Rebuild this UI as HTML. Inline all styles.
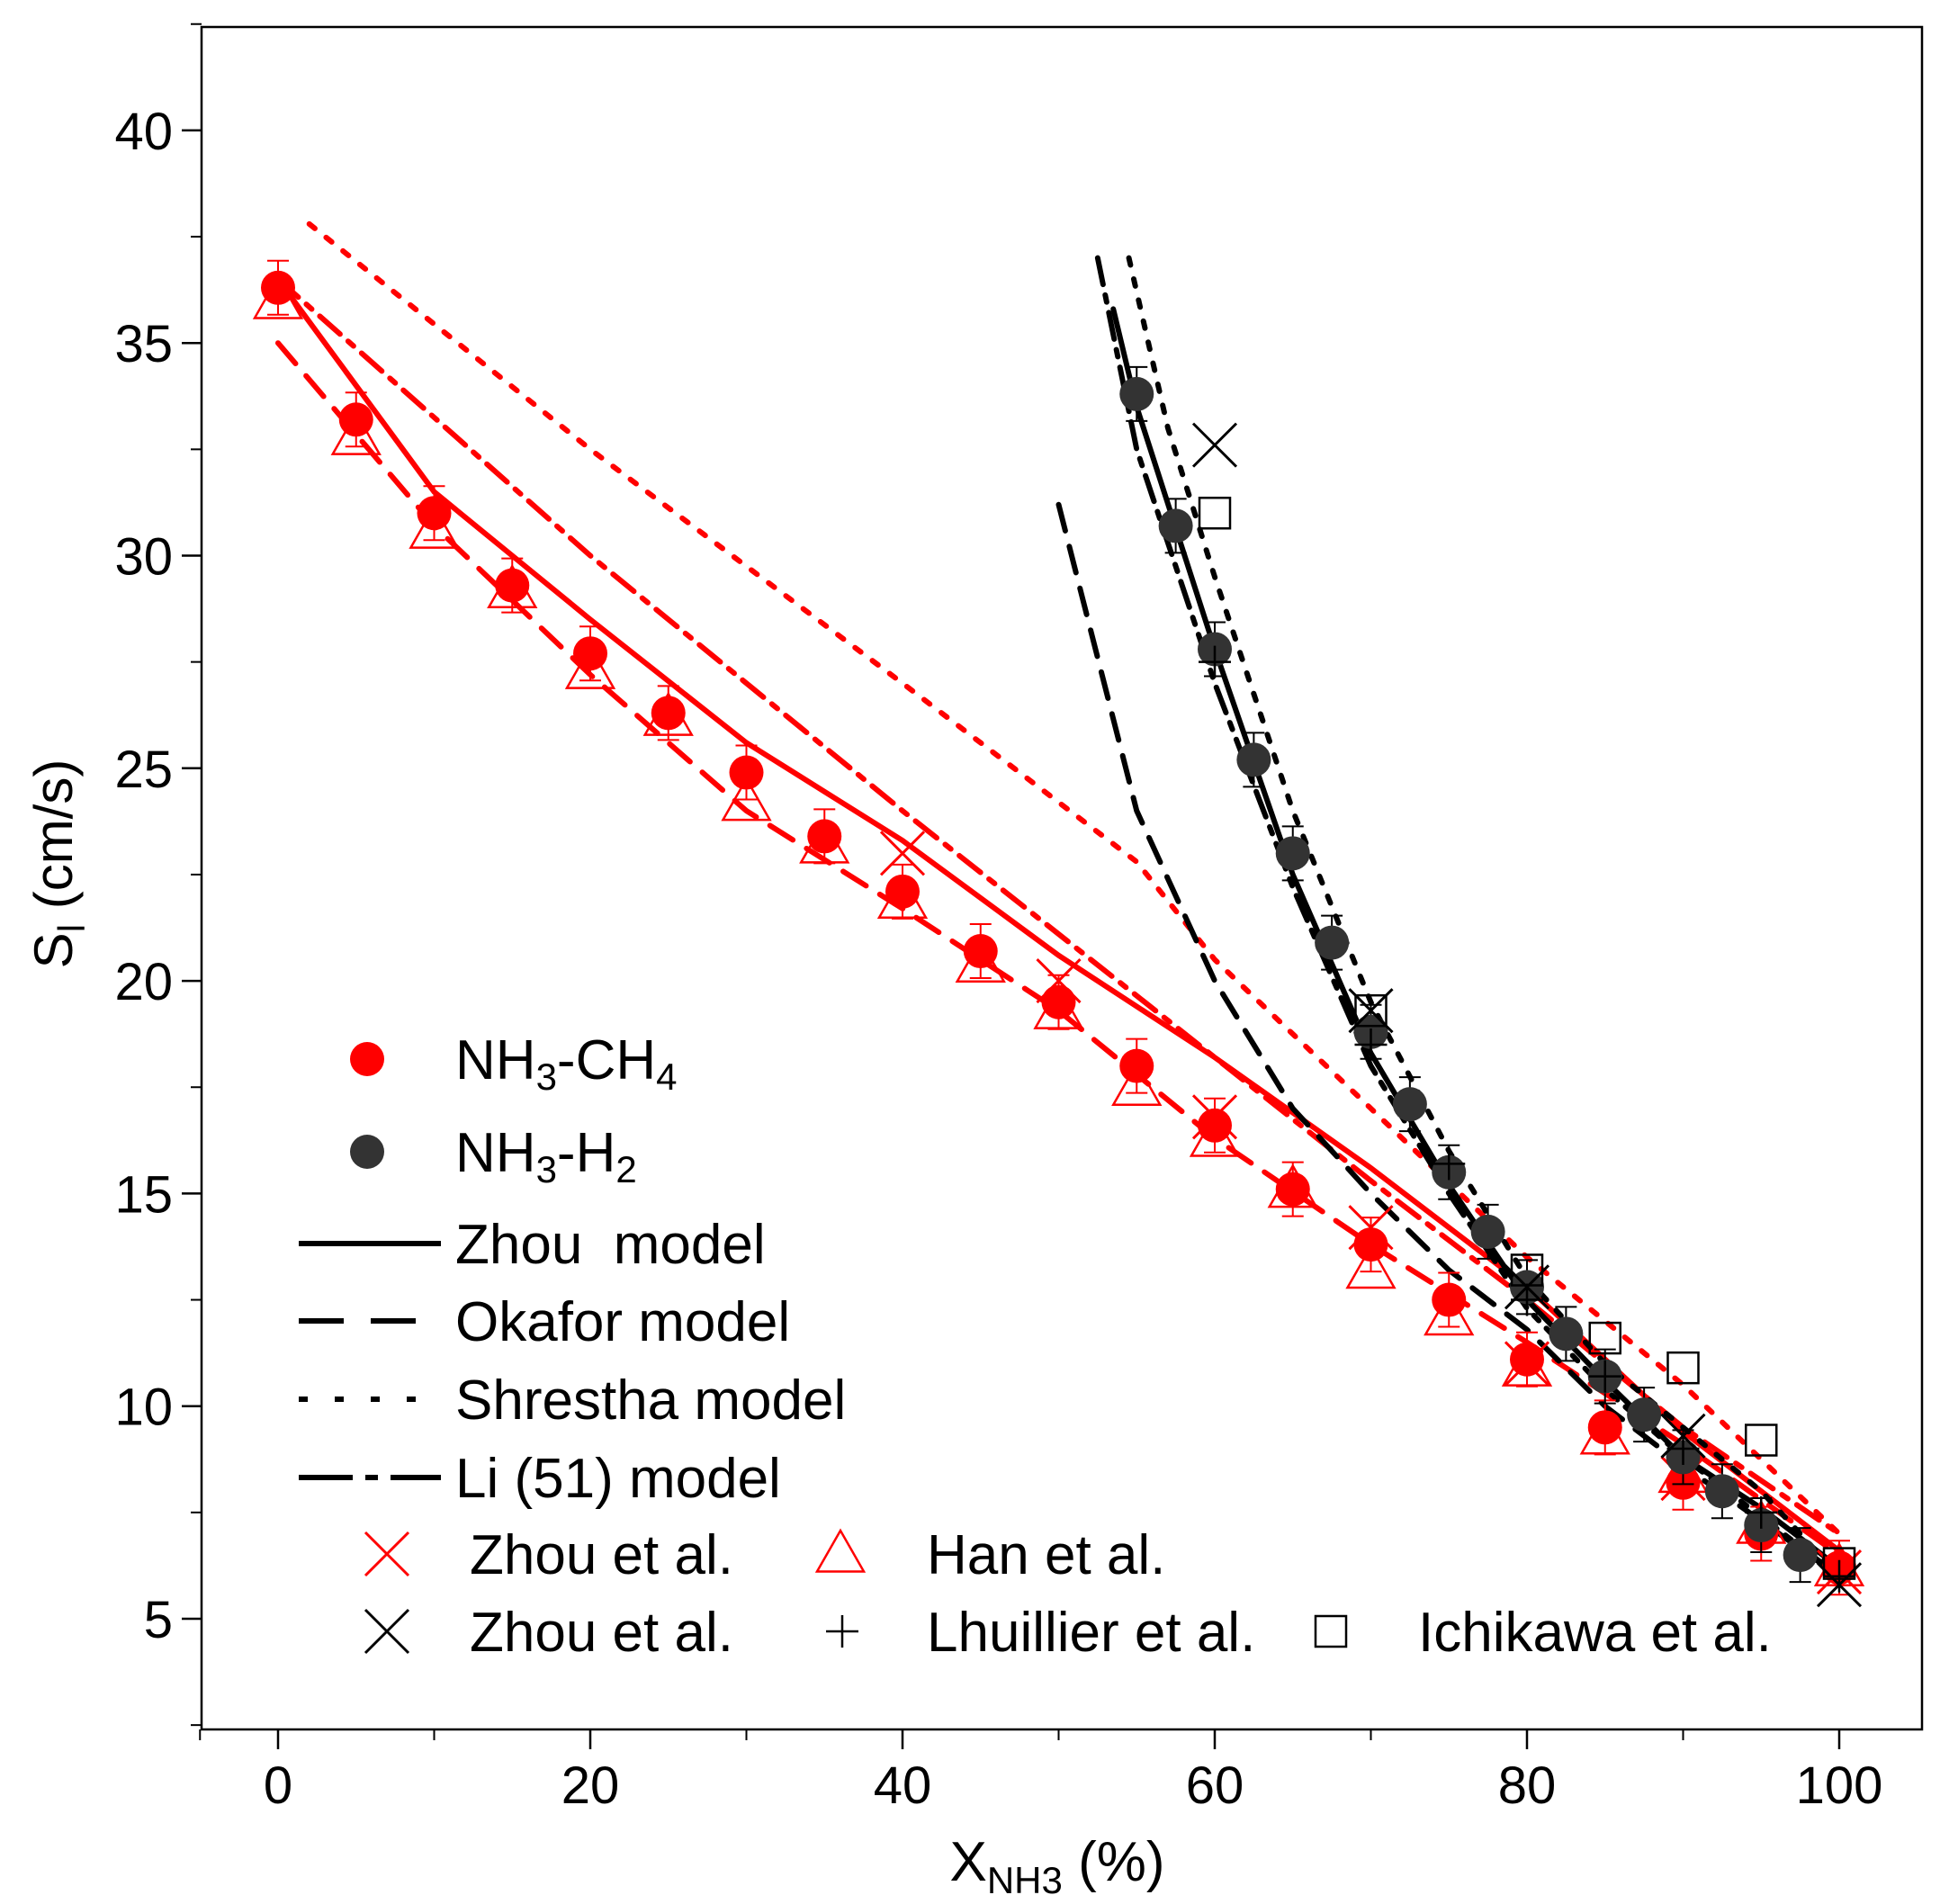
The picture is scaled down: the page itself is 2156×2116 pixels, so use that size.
<!DOCTYPE html>
<html><head><meta charset="utf-8"><style>
html,body{margin:0;padding:0;background:#fff}
svg{display:block;font-family:"Liberation Sans",Arial,sans-serif}
</style></head><body>
<svg id="c" width="2156" height="2116" viewBox="0 0 2156 2116">
<g id="axes"></g><g id="marks"></g><g id="legend"></g>
</svg>
<script>
const xTicks=[0,20,40,60,80,100];
const yTicks=[5,10,15,20,25,30,35,40];
const ch4X=[0,5,10,15,20,25,30,35,40,45,50,55,60,65,70,75,80,85,90,95,100];
const ch4Y=[36.3,33.2,31.0,29.3,27.7,26.3,24.9,23.4,22.1,20.7,19.5,18.0,16.6,15.1,13.8,12.5,11.1,9.5,8.2,7.0,6.2];
const hanY=[36.0,32.8,30.6,29.2,27.3,26.2,24.2,23.2,21.9,20.4,19.3,17.5,16.3,15.1,13.2,12.1,10.9,9.3,8.4,7.2,6.2];
const zhouRX=[40,50,60,70,80,90,100];
const zhouRY=[23.0,20.0,16.8,14.2,11.0,8.3,6.1];
const h2X=[55,57.5,60,62.5,65,67.5,70,72.5,75,77.5,80,82.5,85,87.5,90,92.5,95,97.5];
const h2Y=[33.8,30.7,27.8,25.2,23.0,20.9,18.8,17.1,15.5,14.1,12.8,11.7,10.7,9.8,8.8,8.0,7.2,6.5];
const zhouKX=[60,70,80,90,100];
const zhouKY=[32.6,19.3,12.8,9.3,5.8];
const lhuX=[60,70,75,80,85,90,95,100];
const lhuY=[27.5,18.5,15.7,12.5,10.7,9.0,7.5,6.0];
const ichX=[60,70,80,85,90,95,100];
const ichY=[31.0,19.3,13.2,11.6,10.9,9.2,6.3];
const rZhouX=[0,10,20,30,40,50,60,70,80,90,100],rZhouY=[36.5,31.5,28.5,25.6,23.3,20.6,18.2,15.6,12.8,9.4,6.6];
const rOkaX=[0,10,20,30,40,50,60,70,80,90,100],rOkaY=[35,30.7,27.2,24.0,21.7,19.3,16.3,13.8,11.5,9.1,6.5];
const rShrX=[2,20,40,55,60,70,80,90,100],rShrY=[37.8,32.5,27.0,22.8,20.5,17.0,13.5,10.5,7.0];
const rLiX=[0,20,40,60,70,80,90,100],rLiY=[36.5,30,24,18.2,15.3,12.5,9.5,7.0];
const kZhouX=[53.5,55,60,65,70,75,80,85,90,95,100],kZhouY=[35.8,33.5,27.8,22.5,18.3,15.2,12.5,10.6,8.8,7.6,6.2];
const kOkaX=[50,55,60,65,70,75,80,85,90,95,100],kOkaY=[31.2,24,20,17,15,13.2,11.8,10,8.6,7.3,6.0];
const kShrX=[54.5,57,60,65,70,75,80,85,90,95,100],kShrY=[37,33,29.5,24,19.5,16,13,11,9.5,8,6];
const kLiX=[52.5,55,60,65,70,75,80,85,90,95,100],kLiY=[37,32.5,27,22.2,18,15,12.3,10.4,8.8,7.4,6.0];

const L=224,R=2136,T=30,B=1922;
const X=v=>309+v*17.35;
const Y=v=>1799-(v-5)*47.26;
const NS="http://www.w3.org/2000/svg";
function mk(t,a,p){const e=document.createElementNS(NS,t);for(const k in a)e.setAttribute(k,a[k]);p.appendChild(e);return e;}
const ax=document.getElementById('axes'),mg=document.getElementById('marks'),lg=document.getElementById('legend');
const frame=mk('rect',{x:L,y:T,width:R-L,height:B-T,fill:'none',stroke:'#000','stroke-width':2.5},ax);


for(let i=0;i<xTicks.length;i++){const v=xTicks[i];
 mk('line',{x1:X(v),x2:X(v),y1:B,y2:B+22,stroke:'#000','stroke-width':2.5},ax);
 if(i<xTicks.length-1)mk('line',{x1:X(v+10),x2:X(v+10),y1:B,y2:B+12,stroke:'#000','stroke-width':2},ax);
 const t=mk('text',{x:X(v),y:B+82,'text-anchor':'middle','font-size':58},ax);t.textContent=v;
 
 }
mk('line',{x1:X(-5),x2:X(-5),y1:B,y2:B+12,stroke:'#000','stroke-width':2},ax);
for(let i=0;i<yTicks.length;i++){const v=yTicks[i];
 mk('line',{x1:L-22,x2:L,y1:Y(v),y2:Y(v),stroke:'#000','stroke-width':2.5},ax);
 mk('line',{x1:L-12,x2:L,y1:Y(v+2.5),y2:Y(v+2.5),stroke:'#000','stroke-width':2},ax);
 const t=mk('text',{x:L-32,y:Y(v)+21,'text-anchor':'end','font-size':58},ax);t.textContent=v;
 
 }
mk('line',{x1:L-12,x2:L,y1:Y(2.5),y2:Y(2.5),stroke:'#000','stroke-width':2},ax);
const xt=mk('text',{x:1175,y:2090,'text-anchor':'middle','font-size':62},ax);
xt.innerHTML='X<tspan font-size="42" dy="14">NH3</tspan><tspan dy="-14"> (%)</tspan>';


const yt=mk('text',{x:0,y:0,'text-anchor':'middle','font-size':60,transform:'translate(80,960) rotate(-90)'},ax);
yt.innerHTML='S<tspan font-size="42" dy="14">l</tspan><tspan dy="-14"> (cm/s)</tspan>';



const dash={solid:null,dash:'30,18',dot:'8,16',dashdot:'30,12,8,12'};
function line(xs,ys,col,st,name){const d=xs.map((v,i)=>(i?'L':'M')+X(v)+','+Y(ys[i])).join('');
 const p=mk('path',{d:d,fill:'none',stroke:col,'stroke-width':6,'stroke-linecap':'round'},mg);
 if(dash[st])p.setAttribute('stroke-dasharray',dash[st]);
 
 }
line(rOkaX,rOkaY,'#f00','dash','okafor-ch4-line');
line(rShrX,rShrY,'#f00','dot','shrestha-ch4-line');
line(rLiX,rLiY,'#f00','dashdot','li-ch4-line');
line(rZhouX,rZhouY,'#f00','solid','zhou-ch4-line');
line(kOkaX,kOkaY,'#000','dash','okafor-h2-line');
line(kShrX,kShrY,'#000','dot','shrestha-h2-line');
line(kLiX,kLiY,'#000','dashdot','li-h2-line');
line(kZhouX,kZhouY,'#000','solid','zhou-h2-line');

function circ(x,y,col,name,p){const c=mk('circle',{cx:x,cy:y,r:19,fill:col},p);
 
 }
function tri(x,y,name,p){const s=26;const e=mk('path',{d:`M${x},${y-s}L${x+s},${y+s*0.75}L${x-s},${y+s*0.75}Z`,fill:'none',stroke:'#f00','stroke-width':2.5},p);
 
 }
function cross(x,y,col,name,p){const s=24;const e=mk('path',{d:`M${x-s},${y-s}L${x+s},${y+s}M${x+s},${y-s}L${x-s},${y+s}`,stroke:col,'stroke-width':3,fill:'none'},p);
 
 }
function plus(x,y,name,p){const s=18;const e=mk('path',{d:`M${x-s},${y}L${x+s},${y}M${x},${y-s}L${x},${y+s}`,stroke:'#000','stroke-width':2.5},p);
 
 }
function sq(x,y,name,p){const e=mk('rect',{x:x-17,y:y-17,width:34,height:34,fill:'none',stroke:'#000','stroke-width':2.5},p);
 
 }
function err(x,y,col){mk('path',{d:`M${x},${y-30}V${y+30}M${x-12},${y-30}H${x+12}M${x-12},${y+30}H${x+12}`,stroke:col,'stroke-width':2},mg);}

ch4X.forEach((v,i)=>{err(X(v),Y(ch4Y[i]),'#f00');circ(X(v),Y(ch4Y[i]),'#f00','nh3-ch4-point',mg);});
ch4X.forEach((v,i)=>tri(X(v),Y(hanY[i]),'han-point',mg));
zhouRX.forEach((v,i)=>cross(X(v),Y(zhouRY[i]),'#f00','zhou-ch4-point',mg));
h2X.forEach((v,i)=>{err(X(v),Y(h2Y[i]),'#000');circ(X(v),Y(h2Y[i]),'#333','nh3-h2-point',mg);});
zhouKX.forEach((v,i)=>cross(X(v),Y(zhouKY[i]),'#000','zhou-h2-point',mg));
lhuX.forEach((v,i)=>plus(X(v),Y(lhuY[i]),'lhuillier-point',mg));
ichX.forEach((v,i)=>sq(X(v),Y(ichY[i]),'ichikawa-point',mg));

function ltext(x,y,html,name){const t=mk('text',{x:x,y:y+22,'font-size':62},lg);t.innerHTML=html;
 
 }
circ(408,1177,'#f00','legend-ch4-marker',lg);
ltext(506,1177,'NH<tspan font-size="42" dy="12">3</tspan><tspan dy="-12">-CH</tspan><tspan font-size="42" dy="12">4</tspan>','legend-ch4-label');
circ(408,1280,'#333','legend-h2-marker',lg);
ltext(506,1280,'NH<tspan font-size="42" dy="12">3</tspan><tspan dy="-12">-H</tspan><tspan font-size="42" dy="12">2</tspan>','legend-h2-label');
const ls=[['solid',1382,'Zhou&#160; model'],['dash',1468,'Okafor model'],['dot',1555,'Shrestha model'],['dashdot',1642,'Li (51) model']];
ls.forEach(s=>{const p=mk('line',{x1:332,x2:490,y1:s[1],y2:s[1],stroke:'#000','stroke-width':6},lg);
 if(dash[s[0]])p.setAttribute('stroke-dasharray',s[0]=='dot'?'10,30':s[0]=='dash'?'50,30':'60,14,14,14');
 
 
 ltext(506,s[1],s[2],'legend-model-label');});
cross(430,1727,'#f00','legend-zhou-ch4-marker',lg);ltext(522,1727,'Zhou et al.','legend-label');
tri(934,1727,'legend-han-marker',lg);ltext(1030,1727,'Han et al.','legend-label');
cross(430,1813,'#000','legend-zhou-h2-marker',lg);ltext(522,1813,'Zhou et al.','legend-label');
plus(936,1813,'legend-lhuillier-marker',lg);ltext(1030,1813,'Lhuillier et al.','legend-label');
sq(1479,1813,'legend-ichikawa-marker',lg);ltext(1576,1813,'Ichikawa et al.','legend-label');
</script>
</body></html>
